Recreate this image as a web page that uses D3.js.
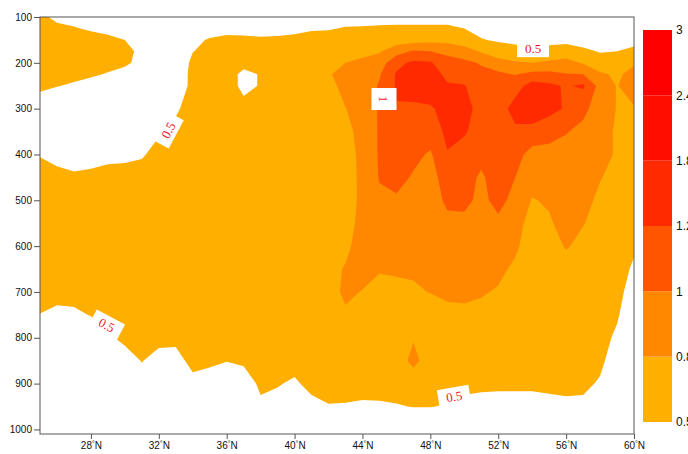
<!DOCTYPE html>
<html>
<head>
<meta charset="utf-8">
<script src="https://cdn.jsdelivr.net/npm/d3@7"></script>
<style>
  html, body { margin: 0; padding: 0; background: #fff; overflow: hidden; }
  svg { display: block; }
</style>
</head>
<body>
<svg id="chart" width="688" height="454"></svg>
<script>
// Latitude columns of the cross-section (°N)
const lats = [25,26,27,28,29,30,31,32,33,34,35,36,37,38,39,40,41,42,43,44,45,46,47,48,49,50,51,52,53,54,55,56,57,58,59,60];
// Pressure levels (hPa), top to bottom
const levels = [100,125,150,175,200,225,250,300,350,400,450,500,550,600,650,700,750,800,850,900,950,1000];
// Shading intervals and their colours
const thresholds = [0.5, 0.8, 1, 1.2, 1.8, 2.4, 3];
const fillColors = ["#FFAF00", "#FF8800", "#FF5500", "#FF2A00", "#FF0F00", "#FF0000"];
// Axis ticks
const latTicks = [28, 32, 36, 40, 44, 48, 52, 56, 60];
const presTicks = [100, 200, 300, 400, 500, 600, 700, 800, 900, 1000];

// Vertical profiles, one per latitude, values at each pressure level
const profiles = [
  /* 25N */ [0.6,0.6,0.6,0.6,0.6,0.6,0.55,0.36,0.3,0.48,0.65,0.65,0.65,0.65,0.65,0.65,0.49,0.3,0.2,0.15,0.1,0.1],
  /* 26N */ [0.4,0.6,0.6,0.6,0.6,0.58,0.51,0.3,0.25,0.35,0.64,0.65,0.65,0.65,0.65,0.65,0.39,0.25,0.18,0.12,0.1,0.1],
  /* 27N */ [0.35,0.53,0.6,0.6,0.6,0.56,0.47,0.25,0.2,0.3,0.57,0.65,0.65,0.65,0.65,0.65,0.42,0.25,0.18,0.12,0.1,0.1],
  /* 28N */ [0.3,0.45,0.65,0.62,0.58,0.52,0.45,0.2,0.15,0.3,0.62,0.65,0.65,0.65,0.65,0.65,0.52,0.2,0.15,0.12,0.1,0.1],
  /* 29N */ [0.25,0.35,0.62,0.6,0.55,0.49,0.35,0.15,0.15,0.35,0.7,0.65,0.65,0.65,0.65,0.65,0.6,0.46,0.25,0.15,0.1,0.1],
  /* 30N */ [0.2,0.3,0.5,0.56,0.53,0.44,0.3,0.1,0.1,0.35,0.75,0.65,0.65,0.65,0.65,0.65,0.65,0.56,0.39,0.2,0.1,0.1],
  /* 31N */ [0.15,0.2,0.3,0.45,0.45,0.3,0.2,0.1,0.2,0.45,0.7,0.65,0.65,0.65,0.65,0.65,0.65,0.65,0.51,0.41,0.2,0.1],
  /* 32N */ [0.1,0.15,0.2,0.25,0.25,0.2,0.15,0.15,0.45,0.66,0.65,0.65,0.65,0.65,0.65,0.65,0.65,0.58,0.4,0.25,0.15,0.1],
  /* 33N */ [0.1,0.12,0.15,0.15,0.15,0.15,0.15,0.45,0.59,0.65,0.65,0.65,0.65,0.65,0.65,0.65,0.65,0.58,0.38,0.2,0.12,0.1],
  /* 34N */ [0.2,0.3,0.45,0.49,0.6,0.65,0.65,0.65,0.65,0.65,0.65,0.65,0.65,0.65,0.65,0.65,0.65,0.65,0.6,0.4,0.2,0.1],
  /* 35N */ [0.3,0.4,0.52,0.6,0.65,0.65,0.65,0.65,0.65,0.65,0.65,0.65,0.65,0.65,0.65,0.65,0.65,0.65,0.56,0.36,0.2,0.1],
  /* 36N */ [0.3,0.42,0.56,0.65,0.65,0.65,0.65,0.65,0.65,0.65,0.65,0.65,0.65,0.65,0.65,0.65,0.65,0.6,0.51,0.3,0.15,0.1],
  /* 37N */ [0.3,0.42,0.55,0.62,0.6,0.42,0.42,0.6,0.65,0.65,0.65,0.65,0.65,0.65,0.65,0.65,0.65,0.65,0.55,0.34,0.18,0.1],
  /* 38N */ [0.3,0.42,0.53,0.62,0.6,0.52,0.52,0.62,0.65,0.65,0.65,0.65,0.65,0.65,0.65,0.65,0.65,0.65,0.65,0.56,0.44,0.2],
  /* 39N */ [0.3,0.42,0.54,0.65,0.65,0.65,0.65,0.65,0.65,0.65,0.65,0.65,0.65,0.65,0.65,0.65,0.65,0.65,0.65,0.52,0.4,0.2],
  /* 40N */ [0.3,0.44,0.56,0.65,0.65,0.65,0.65,0.65,0.65,0.65,0.65,0.65,0.65,0.65,0.65,0.65,0.65,0.65,0.6,0.46,0.25,0.15],
  /* 41N */ [0.32,0.47,0.6,0.65,0.65,0.65,0.65,0.65,0.65,0.65,0.65,0.65,0.65,0.65,0.65,0.65,0.65,0.65,0.65,0.58,0.42,0.2],
  /* 42N */ [0.35,0.48,0.6,0.7,0.79,0.78,0.72,0.7,0.68,0.67,0.66,0.66,0.66,0.68,0.72,0.72,0.68,0.66,0.65,0.65,0.48,0.2],
  /* 43N */ [0.38,0.52,0.65,0.72,0.8,0.88,0.88,0.795,0.75,0.72,0.7,0.7,0.7,0.74,0.82,0.84,0.77,0.68,0.65,0.6,0.48,0.2],
  /* 44N */ [0.38,0.53,0.66,0.75,0.84,0.87,0.88,0.88,0.86,0.85,0.85,0.85,0.88,0.92,0.88,0.79,0.72,0.66,0.65,0.65,0.44,0.2],
  /* 45N */ [0.4,0.54,0.68,0.78,0.9,0.98,1.02,1.02,1.02,1.02,1.01,0.97,0.93,0.9,0.82,0.72,0.68,0.66,0.65,0.62,0.46,0.2],
  /* 46N */ [0.4,0.55,0.7,0.92,1.14,1.22,1.22,1.19,1.12,1.1,1.06,0.975,0.92,0.88,0.82,0.76,0.7,0.67,0.65,0.63,0.48,0.2],
  /* 47N */ [0.4,0.55,0.72,1.02,1.24,1.32,1.3,1.16,1.1,1.05,0.98,0.92,0.88,0.86,0.82,0.78,0.7,0.78,0.88,0.62,0.51,0.2],
  /* 48N */ [0.4,0.55,0.74,1.0,1.22,1.3,1.3,1.18,1.1,0.975,0.92,0.9,0.9,0.88,0.85,0.805,0.72,0.68,0.66,0.62,0.51,0.2],
  /* 49N */ [0.4,0.55,0.74,0.95,1.08,1.15,1.22,1.26,1.24,1.19,1.1,1.04,0.95,0.9,0.86,0.83,0.76,0.7,0.66,0.6,0.48,0.2],
  /* 50N */ [0.35,0.5,0.7,0.88,1.05,1.12,1.21,1.26,1.22,1.12,1.08,1.05,0.95,0.9,0.87,0.83,0.77,0.7,0.66,0.58,0.42,0.2],
  /* 51N */ [0.25,0.4,0.52,0.78,0.98,1.06,1.1,1.14,1.12,1.06,0.97,0.95,0.95,0.9,0.86,0.82,0.74,0.68,0.65,0.56,0.4,0.2],
  /* 52N */ [0.2,0.32,0.46,0.68,0.88,1.04,1.1,1.1,1.1,1.1,1.1,1.06,0.96,0.9,0.85,0.78,0.72,0.67,0.64,0.56,0.38,0.2],
  /* 53N */ [0.2,0.3,0.42,0.62,0.83,0.99,1.12,1.28,1.16,1.08,1.0,0.94,0.9,0.84,0.76,0.7,0.67,0.66,0.64,0.56,0.38,0.2],
  /* 54N */ [0.2,0.3,0.38,0.56,0.8,1.06,1.28,1.32,1.14,0.92,0.87,0.79,0.7,0.68,0.67,0.66,0.65,0.65,0.64,0.56,0.38,0.2],
  /* 55N */ [0.2,0.3,0.38,0.64,0.84,1.06,1.24,1.26,1.08,0.93,0.88,0.82,0.78,0.7,0.67,0.66,0.65,0.65,0.64,0.58,0.4,0.2],
  /* 56N */ [0.2,0.32,0.4,0.68,0.87,1.01,1.18,1.18,1.01,0.93,0.9,0.88,0.86,0.82,0.7,0.66,0.65,0.65,0.64,0.6,0.42,0.2],
  /* 57N */ [0.2,0.28,0.38,0.56,0.78,1.0,1.23,1.04,0.96,0.9,0.88,0.86,0.81,0.74,0.68,0.66,0.65,0.64,0.62,0.58,0.42,0.2],
  /* 58N */ [0.2,0.26,0.34,0.48,0.64,0.84,0.93,0.92,0.86,0.86,0.81,0.76,0.72,0.68,0.66,0.65,0.64,0.62,0.58,0.46,0.3,0.15],
  /* 59N */ [0.22,0.28,0.36,0.5,0.68,0.76,0.79,0.79,0.78,0.78,0.74,0.7,0.67,0.65,0.64,0.6,0.54,0.44,0.3,0.2,0.15,0.1],
  /* 60N */ [0.25,0.32,0.42,0.56,0.77,0.88,0.92,0.78,0.72,0.7,0.68,0.64,0.6,0.55,0.45,0.35,0.25,0.2,0.15,0.1,0.1,0.1]
];

// In-line contour labels, placed on the 0.5 and 1 isolines
const labelText = ["0.5", "0.5", "0.5", "0.5", "1"];
const labelLat = [32.56, 28.93, 49.4, 54.05, 45.27];
const labelPres = [347, 772, 928, 168, 279];
const labelAngle = [-62, 28, -10, 0, 90];

// ---------- layout ----------
const svg = d3.select("#chart");
const plot = { left: 40, right: 634, top: 17, bottom: 434 };
const x = d3.scaleLinear().domain([25, 60]).range([plot.left, plot.right]);
const y = d3.scaleLinear().domain([100, 1010]).range([plot.top, plot.bottom]);
const axisFont = "'Liberation Sans', Arial, Helvetica, sans-serif";

// ---------- filled contours ----------
const nx = lats.length, ny = levels.length;
const grid = new Array(nx * ny);
for (let j = 0; j < ny; j++)
  for (let i = 0; i < nx; i++) grid[j * nx + i] = profiles[i][j];

// grid-space coordinates (sample i sits at i + 0.5) -> data coordinates
const gx = d3.scaleLinear().domain([0.5, nx - 0.5]).range([lats[0], lats[nx - 1]]);
const gy = d3.scaleLinear().domain(levels.map((_, i) => i + 0.5)).range(levels);

const bands = d3.contours().size([nx, ny]).thresholds(thresholds.slice(0, -1))(grid);
const toScreen = d3.geoTransform({
  point(px, py) { this.stream.point(x(gx(px)), y(gy(py))); }
});
const path = d3.geoPath(toScreen);

svg.append("defs").append("clipPath").attr("id", "plotClip")
  .append("rect")
  .attr("x", plot.left).attr("y", plot.top)
  .attr("width", plot.right - plot.left).attr("height", plot.bottom - plot.top);

svg.append("g").attr("clip-path", "url(#plotClip)")
  .selectAll("path").data(bands).join("path")
  .attr("d", path)
  .attr("fill", (d, i) => fillColors[i])
  .attr("stroke", "none");

// ---------- contour labels ----------
const lab = svg.append("g").attr("clip-path", "url(#plotClip)")
  .selectAll("g").data(labelText).join("g")
  .attr("transform", (d, i) => `translate(${x(labelLat[i])},${y(labelPres[i])}) rotate(${labelAngle[i]})`);
lab.append("rect")
  .attr("x", d => d.length > 1 ? -16 : -11)
  .attr("y", d => d.length > 1 ? -9 : -12.5)
  .attr("width", d => d.length > 1 ? 32 : 22)
  .attr("height", d => d.length > 1 ? 18 : 25)
  .attr("fill", "#fff");
lab.append("text")
  .attr("text-anchor", "middle")
  .attr("dy", "0.35em")
  .attr("font-family", "'Liberation Serif', 'Times New Roman', serif")
  .attr("font-size", 13)
  .attr("fill", "#f0141e")
  .text(d => d);

// ---------- axes ----------
const axisColor = "#555";
const yAxis = svg.append("g")
  .attr("transform", `translate(${plot.left},0)`)
  .call(d3.axisLeft(y).tickValues(presTicks).tickFormat(d3.format("d"))
    .tickSize(6).tickPadding(2).tickSizeOuter(0));
const xAxis = svg.append("g")
  .attr("transform", `translate(0,${plot.bottom})`)
  .call(d3.axisBottom(x).tickValues(latTicks).tickSize(5).tickPadding(3).tickSizeOuter(0));

[yAxis, xAxis].forEach(g => {
  g.select(".domain").remove();
  g.selectAll("line").attr("stroke", axisColor);
  g.selectAll("text").attr("font-family", axisFont).attr("font-size", 10).attr("fill", "#111");
});

xAxis.selectAll(".tick text").each(function (d) {
  const t = d3.select(this).text(null);
  t.append("tspan").text(d);
  t.append("tspan").attr("font-size", 7).attr("dy", -3).text("°");
  t.append("tspan").attr("dy", 3).text("N");
});

// frame
svg.append("rect")
  .attr("x", plot.left).attr("y", plot.top)
  .attr("width", plot.right - plot.left).attr("height", plot.bottom - plot.top)
  .attr("fill", "none").attr("stroke", axisColor).attr("stroke-width", 1);

// ---------- colour bar ----------
const cb = { x: 643, w: 29, top: 30, bottom: 422 };
const cbY = d3.scalePoint().domain(thresholds).range([cb.bottom, cb.top]);
const cbG = svg.append("g");
cbG.selectAll("rect").data(fillColors).join("rect")
  .attr("x", cb.x)
  .attr("y", (d, i) => cbY(thresholds[i + 1]))
  .attr("width", cb.w)
  .attr("height", (d, i) => cbY(thresholds[i]) - cbY(thresholds[i + 1]))
  .attr("fill", d => d);
cbG.selectAll("text").data(thresholds).join("text")
  .attr("x", cb.x + cb.w + 4)
  .attr("y", d => cbY(d))
  .attr("dy", "0.35em")
  .attr("font-family", axisFont)
  .attr("font-size", 12)
  .attr("fill", "#111")
  .text(d => String(d));
</script>
</body>
</html>
